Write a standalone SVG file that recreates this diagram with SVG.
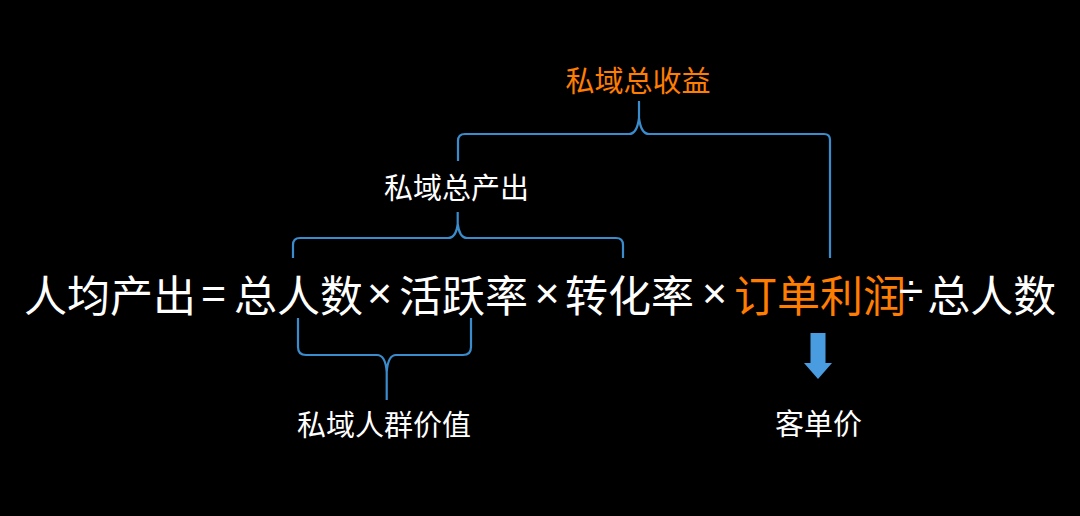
<svg xmlns="http://www.w3.org/2000/svg" width="1080" height="516" viewBox="0 0 1080 516">
<style>
.f{font-family:"Noto Sans CJK SC","Noto Sans",sans-serif;font-size:43px;fill:#fff}
.s{font-family:"Liberation Sans",Arial,sans-serif;font-size:43px;fill:#fff;text-anchor:middle}
.d{font-family:"Liberation Sans",Arial,sans-serif;font-size:44px;fill:#fff}
.l{font-family:"Noto Sans CJK SC","Noto Sans",sans-serif;font-size:29px;fill:#fff;text-anchor:middle}
.o{fill:#ff7d00}
.br{fill:none;stroke:#3a8ccc;stroke-width:2.2;stroke-linejoin:round}
</style>
<rect width="1080" height="516" fill="#000"/>
<g id="formula">
<text class="f" x="24" y="312">人均产出</text>
<text class="s" x="213.5" y="308">=</text>
<text class="f" x="234" y="312">总人数</text>
<text class="s" x="379.5" y="308">×</text>
<text class="f" x="399" y="312">活跃率</text>
<text class="s" x="547" y="308">×</text>
<text class="f" x="565" y="312">转化率</text>
<text class="s" x="714.5" y="308">×</text>
<text class="f" x="734" y="312"><tspan class="o">订单利润</tspan><tspan class="d" dx="-7" dy="-6">÷</tspan><tspan dx="4" dy="6">总人数</tspan></text>
</g>
<g id="label-revenue"><text class="l o" x="638" y="92">私域总收益</text></g>
<g id="label-output"><text class="l" x="456.5" y="199">私域总产出</text></g>
<g id="label-crowd"><text class="l" x="384" y="436">私域人群价值</text></g>
<g id="label-price"><text class="l" x="818.5" y="435">客单价</text></g>
<g id="connectors">
<path class="br" d="M458,161 L458,141 Q458,134 465,134 L629,134 Q637,134 639,118 L639,101 M639,118 Q641,134 649,134 L824,134 Q830,134 830,140 L830,258"/>
<path class="br" d="M293,258 L293,245 Q293,238 300,238 L448,238 Q456,238 457.7,224 L457.7,212 M457.7,224 Q459.5,238 467,238 L616,238 Q623,238 623,245 L623,258"/>
<path class="br" d="M298,318 L298,347 Q298,355 306,355 L377,355 Q385.5,355 386.7,372 L386.7,400 M386.7,372 Q388,355 396,355 L463,355 Q471,355 471,347 L471,318"/>
<path id="arrow" d="M810.5,333 L825.5,333 L825.5,363 L832,363 L818,379 L804,363 L810.5,363 Z" fill="#4a9ce0"/>
</g>
</svg>
